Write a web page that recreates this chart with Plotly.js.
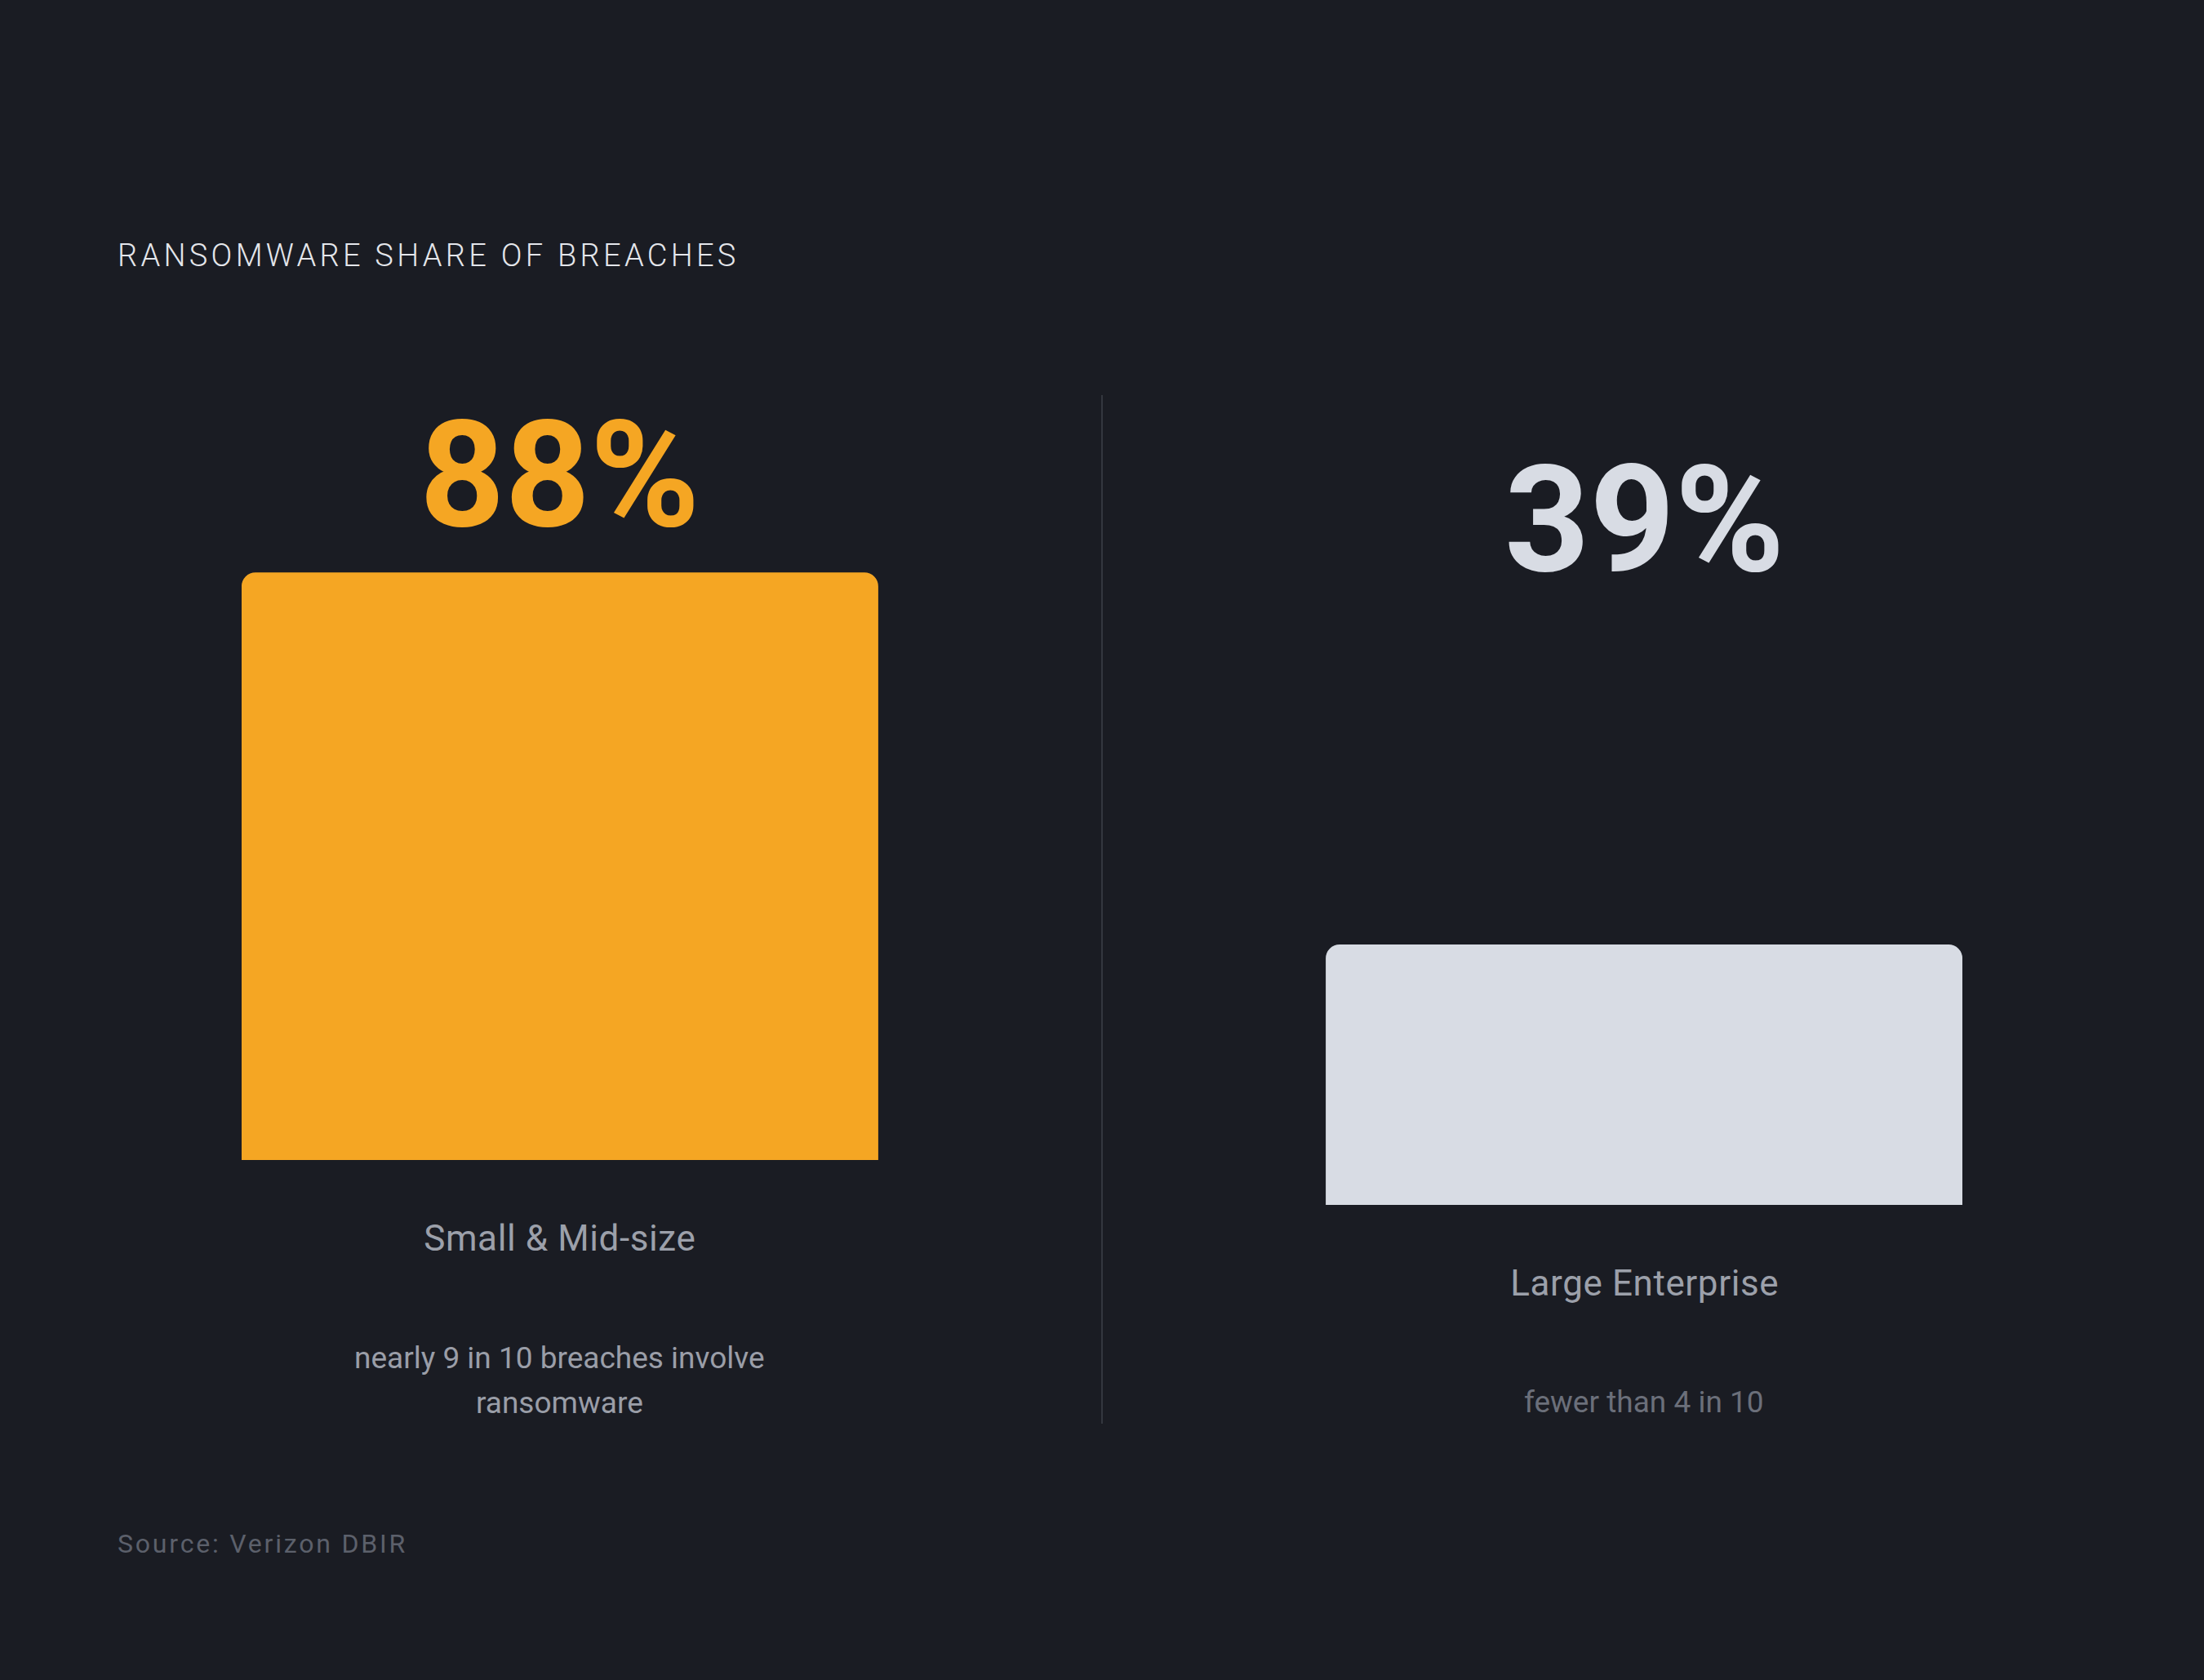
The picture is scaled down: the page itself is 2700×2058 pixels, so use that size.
<!DOCTYPE html>
<html>
<head>
<meta charset="utf-8">
<script src="https://cdn.plot.ly/plotly-3.0.1.min.js"></script>
<style>
  html, body { margin: 0; padding: 0; background: #1a1c23; }
  #chart { width: 2700px; height: 2058px; }
</style>
</head>
<body>
<div id="chart"></div>
<script>
// data
var categories = ["Small & Mid-size", "Large Enterprise"];
var shares = [88, 39];
var captionLines = [["nearly 9 in 10 breaches involve", "ransomware"], ["fewer than 4 in 10"]];
var chartTitle = "RANSOMWARE SHARE OF BREACHES";
var sourceNote = "Source: Verizon DBIR";

var barColors = ["#f5a623", "#d8dce4"];
var valueColors = ["#f5a623", "#d8dce4"];
var captionColors = ["#9a9ea8", "#6b6f7a"];
var FONT = "Roboto, 'Open Sans', sans-serif";

function initChart() {
  var traces = categories.map(function (c, i) {
    var sfx = i === 0 ? "" : String(i + 1);
    return {
      type: "bar",
      x: [c],
      y: [shares[i]],
      width: [1],
      xaxis: "x" + sfx,
      yaxis: "y" + sfx,
      marker: { color: barColors[i], cornerradius: 17, line: { width: 0 } },
      hoverinfo: "skip",
      showlegend: false
    };
  });

  var annotations = [];
  categories.forEach(function (c, i) {
    var sfx = i === 0 ? "" : String(i + 1);
    // big value label, sits above the 100% line
    annotations.push({
      xref: "x" + sfx, yref: "y" + sfx, x: c, y: 102.6,
      text: shares[i] + "%", showarrow: false,
      xanchor: "center", yanchor: "middle",
      font: { family: FONT, size: 182, weight: 700, color: valueColors[i] }
    });
    // category name below the bar
    annotations.push({
      xref: "x" + sfx, yref: "y" + sfx, x: c, y: 0, yshift: -96,
      text: c, showarrow: false, xanchor: "center", yanchor: "middle",
      font: { family: FONT, size: 44, color: "#9ca0aa" }
    });
    captionLines[i].forEach(function (line, j) {
      annotations.push({
        xref: "x" + sfx, yref: "y" + sfx, x: c, y: 0, yshift: -242 - 55 * j,
        text: line, showarrow: false, xanchor: "center", yanchor: "middle",
        font: { family: FONT, size: 37, color: captionColors[i] }
      });
    });
  });

  annotations.push({
    xref: "paper", yref: "paper", x: 0.0527, y: 0.848,
    text: chartTitle, showarrow: false, xanchor: "left", yanchor: "middle", align: "left",
    font: { family: FONT, size: 38, weight: 300, color: "#e4e6eb" }
  });
  annotations.push({
    xref: "paper", yref: "paper", x: 0.0527, y: 0.0811,
    text: sourceNote, showarrow: false, xanchor: "left", yanchor: "middle", align: "left",
    font: { family: FONT, size: 32, color: "#5c606b" }
  });

  var hidden = {
    showgrid: false, zeroline: false, showticklabels: false,
    showline: false, ticks: "", fixedrange: true
  };

  // 100 units = 818px in both panels; range tops at 115 so the value labels stay inside
  var layout = {
    width: 2700,
    height: 2058,
    margin: { t: 0, r: 0, b: 0, l: 0 },
    paper_bgcolor: "#1a1c23",
    plot_bgcolor: "#1a1c23",
    showlegend: false,
    xaxis: Object.assign({}, hidden, { type: "category", range: [-0.5, 0.5], domain: [0.1096, 0.3985], anchor: "y" }),
    yaxis: Object.assign({}, hidden, { range: [0, 115], domain: [0.3095, 0.7666], anchor: "x" }),
    xaxis2: Object.assign({}, hidden, { type: "category", range: [-0.5, 0.5], domain: [0.6015, 0.8904], anchor: "y2" }),
    yaxis2: Object.assign({}, hidden, { range: [0, 115], domain: [0.2828, 0.7399], anchor: "x2" }),
    shapes: [{
      type: "line", xref: "paper", yref: "paper",
      x0: 0.5, x1: 0.5, y0: 0.1526, y1: 0.7648,
      line: { color: "#34373f", width: 2 }
    }],
    annotations: annotations
  };

  Plotly.newPlot("chart", traces, layout, { staticPlot: true, displayModeBar: false }).then(function () {
    var notes = document.querySelectorAll("#chart .annotation-text");
    var n = notes.length;
    for (var k = 0; k < n; k++) {
      if (categories.indexOf(notes[k].textContent) >= 0) notes[k].style.letterSpacing = "0.6px";
    }
    if (n >= 2) {
      notes[n - 2].style.letterSpacing = "4.3px";
      notes[n - 1].style.letterSpacing = "2.8px";
    }
  });
}

initChart();
</script>
</body>
</html>
